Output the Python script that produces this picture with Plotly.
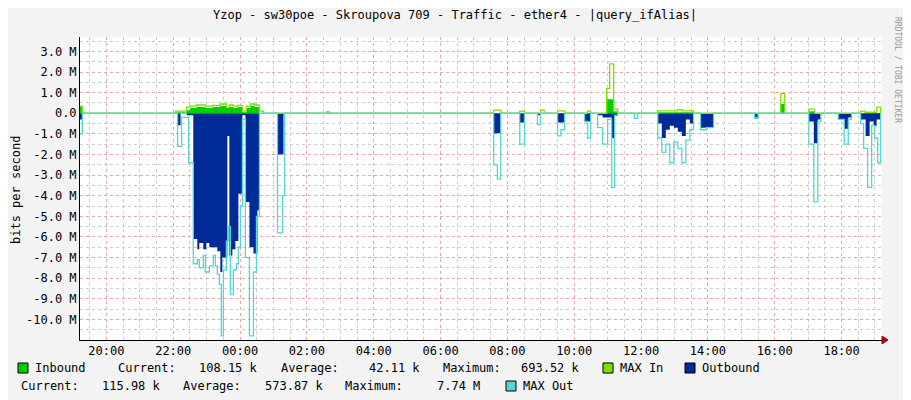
import plotly.graph_objects as go

# time in hours (24+ = next day), values in M bits/s
out_t = [19.21, 19.28, 22.13, 22.22, 22.40, 22.60, 22.72, 22.78, 22.90, 22.99, 23.08, 23.20, 23.32, 23.41, 23.47,
         23.62, 23.68, 23.77, 23.86, 23.95, 24.07, 24.16, 24.28, 24.40, 24.52, 24.58, 25.12, 25.30,
         31.59, 31.80, 32.37, 32.51, 32.90, 32.99, 33.50, 33.71, 34.31, 34.49, 34.70, 34.85, 35.00, 35.12, 35.21, 35.30,
         36.50, 36.62, 36.74, 36.86, 36.98, 37.10, 37.22, 37.34, 37.46, 37.57,
         37.78, 38.17, 39.40, 39.50, 41.02, 41.17, 41.29, 41.38, 41.90, 42.08, 42.20, 42.30,
         42.57, 42.72, 42.84, 42.96, 43.05, 43.17]
out_v = [-0.3, 0, -0.58, 0, -0.1, -6.1, -6.6, -6.3, -6.6, -6.3, -6.5, -6.5, -6.7, -7.7, -7.0,
         -1.1, -6.9, -6.6, -6.2, -3.9, -0.1, -4.3, -6.5, -6.8, -4.7, 0, -2.0, 0,
         -0.97, 0, -0.45, 0, -0.1, 0, -0.45, 0, -0.4, 0, -0.1, -0.2, -0.2, -1.2, -0.1, 0,
         -0.5, -1.2, -0.8, -0.6, -0.7, -0.9, -1.1, -0.3, -0.5, 0,
         -0.7, 0, -0.2, 0, -0.4, -1.45, -0.3, 0, -0.3, -0.75, -0.2, 0,
         -0.3, -1.1, -0.4, -0.6, -0.3, 0]

maxout_t = [19.21, 19.28, 22.13, 22.25, 22.40, 22.46, 22.60, 22.72, 22.78, 22.90, 22.96, 23.08, 23.20, 23.26, 23.32,
            23.38, 23.44, 23.50, 23.59, 23.65, 23.71, 23.80, 23.89, 23.95, 24.01, 24.07, 24.16, 24.28, 24.40,
            24.49, 24.58, 25.12, 25.27, 25.33,
            31.59, 31.70, 31.80, 32.37, 32.51, 32.90, 32.99, 33.50, 33.60, 33.71, 34.31, 34.40, 34.49,
            34.70, 34.85, 35.00, 35.12, 35.21, 35.30, 35.80, 35.90,
            36.50, 36.62, 36.74, 36.86, 36.98, 37.10, 37.22, 37.34, 37.46, 37.57,
            37.78, 37.95, 38.17, 39.40, 39.50, 41.02, 41.17, 41.29, 41.38, 41.90, 42.08, 42.20, 42.30,
            42.57, 42.66, 42.78, 42.90, 42.99, 43.08, 43.17]
maxout_v = [-1.0, 0, -1.6, -0.2, -0.2, -2.4, -7.3, -7.1, -7.5, -6.9, -7.7, -7.4, -6.9, -7.4, -7.8,
            -8.3, -10.8, -7.6, -6.2, -5.5, -8.8, -7.6, -7.3, -6.5, -4.5, -0.3, -7.0, -10.8, -7.7,
            -5.0, 0, -5.8, -4.0, 0,
            -2.5, -3.2, 0, -1.5, 0, -0.55, 0, -1.1, -0.8, 0, -0.4, -1.2, 0,
            -0.7, -1.5, -0.3, -3.6, -0.1, 0, -0.25, 0,
            -1.2, -1.9, -1.5, -2.4, -1.4, -1.7, -2.4, -1.3, -0.8, 0,
            -0.8, -0.7, 0, -0.25, 0, -1.5, -4.3, -0.4, 0, -0.3, -1.5, -0.3, 0,
            -0.5, -1.7, -3.6, -0.6, -1.2, -2.4, 0]

in_t = [19.21, 19.28, 22.07, 22.40, 22.51, 22.69, 22.96, 23.17, 23.41, 23.59, 23.68, 23.80, 23.92, 24.07,
        24.19, 24.31, 24.43, 24.58, 26.60, 26.66, 34.97, 35.18, 35.30, 36.50, 37.57, 40.18, 40.30, 41.02, 41.20]
in_v = [0.3, 0, 0.05, 0.15, 0.25, 0.3, 0.25, 0.3, 0.35, 0.25, 0.3, 0.25, 0.3, 0.05,
        0.25, 0.35, 0.3, 0, 0.05, 0, 0.68, 0.1, 0, 0.05, 0, 0.45, 0, 0.1, 0]

maxin_t = [19.21, 19.28, 22.07, 22.40, 22.51, 22.69, 22.96, 23.17, 23.41, 23.59, 23.68, 23.80, 23.92, 24.07,
           24.19, 24.31, 24.43, 24.58, 24.70, 26.60, 26.66, 31.59, 31.80, 32.37, 32.51, 32.99, 33.10,
           33.50, 33.71, 34.40, 34.49, 34.97, 35.06, 35.18, 35.30, 36.50, 37.10, 37.22, 37.57,
           40.18, 40.30, 41.02, 41.20, 42.57, 42.70, 43.05, 43.17]
maxin_v = [0.35, 0, 0.1, 0.3, 0.35, 0.4, 0.35, 0.38, 0.45, 0.3, 0.4, 0.35, 0.38, 0.1,
           0.35, 0.45, 0.4, 0.1, 0, 0.08, 0, 0.15, 0, 0.1, 0, 0.15, 0,
           0.12, 0, 0.1, 0, 1.2, 2.4, 0.2, 0, 0.12, 0.18, 0.12, 0,
           0.95, 0, 0.2, 0, 0.1, 0.05, 0.3, 0]

x_ticks = [20, 22, 24, 26, 28, 30, 32, 34, 36, 38, 40, 42]
x_labels = ["20:00", "22:00", "00:00", "02:00", "04:00", "06:00", "08:00", "10:00", "12:00", "14:00", "16:00", "18:00"]
y_ticks = [3, 2, 1, 0, -1, -2, -3, -4, -5, -6, -7, -8, -9, -10]
y_labels = ["3.0 M", "2.0 M", "1.0 M", "0.0", "-1.0 M", "-2.0 M", "-3.0 M", "-4.0 M", "-5.0 M",
            "-6.0 M", "-7.0 M", "-8.0 M", "-9.0 M", "-10.0 M"]

MONO = "DejaVu Sans Mono"
C_IN, C_MAXIN, C_OUT, C_MAXOUT = "#00CF00", "#7CE000", "#002A97", "#55D6D3"

fig = go.Figure()
fig.add_trace(go.Scatter(x=out_t, y=out_v, mode="lines", line=dict(shape="hv", width=0, color=C_OUT),
                         fill="tozeroy", fillcolor=C_OUT))
fig.add_trace(go.Scatter(x=in_t, y=in_v, mode="lines", line=dict(shape="hv", width=0, color=C_IN),
                         fill="tozeroy", fillcolor=C_IN))
fig.add_trace(go.Scatter(x=maxin_t, y=maxin_v, mode="lines", line=dict(shape="hv", width=1.3, color=C_MAXIN)))
fig.add_trace(go.Scatter(x=maxout_t, y=maxout_v, mode="lines", line=dict(shape="hv", width=1.3, color=C_MAXOUT)))

# page body has an 8px default margin, so shift everything up-left by 8px
OFF = 8
W, H = 911, 400
L, R, T, B = 80 - OFF, 882 - OFF, 37 - OFF, 340 - OFF
def px(x): return (x - OFF - L) / (R - L)
def py(y): return (B - (y - OFF)) / (B - T)

ann = []
def txt(x, y, s, **kw):
    d = dict(x=px(x), y=py(y), xref="paper", yref="paper", text=s, showarrow=False,
             xanchor="left", yanchor="middle", font=dict(family=MONO, size=12, color="#000"))
    d.update(kw)
    ann.append(d)

txt(455, 15, "Yzop - sw30poe - Skroupova 709 - Traffic - ether4 - |query_ifAlias|", xanchor="center")
txt(16, 190, "bits per second", xanchor="center", textangle=-90)
txt(897, 70, "RRDTOOL / TOBI OETIKER", xanchor="center", textangle=90,
    font=dict(family=MONO, size=8, color="#999"))
row1 = [(33, "Inbound"), (116, "Current:"), (197, "108.15 k"), (279, "Average:"), (367, "42.11 k"),
        (441, "Maximum:"), (519, "693.52 k"), (618, "MAX In"), (700, "Outbound")]
row2 = [(19, "Current:"), (100, "115.98 k"), (181, "Average:"), (263, "573.87 k"), (343, "Maximum:"),
        (435, "7.74 M"), (521, "MAX Out")]
for x, s in row1: txt(x, 368, s)
for x, s in row2: txt(x, 386, s)

shapes = []
for x, y, c in [(18, 368, C_IN), (603, 368, C_MAXIN), (685, 368, C_OUT), (506, 386, C_MAXOUT)]:
    shapes.append(dict(type="rect", xref="paper", yref="paper", x0=px(x), x1=px(x + 10),
                       y0=py(y + 5), y1=py(y - 5), fillcolor=c, line=dict(color="#000", width=1)))
shapes.append(dict(type="path", xref="paper", yref="paper",
                   path=f"M {px(882)},{py(336)} L {px(888)},{py(340)} L {px(882)},{py(344)} Z",
                   fillcolor="#B00000", line=dict(color="#B00000", width=1)))

fig.update_layout(
    width=W, height=H, margin=dict(l=L, r=W - R, t=T, b=H - B, autoexpand=False),
    paper_bgcolor="#F3F3F3", plot_bgcolor="#FFFFFF", showlegend=False,
    annotations=ann, shapes=shapes,
    xaxis=dict(range=[19.21, 43.21], tickvals=x_ticks, ticktext=x_labels, showgrid=True,
               gridcolor="#E8A8A8", griddash="dot", gridwidth=1,
               minor=dict(dtick=0.5, tick0=20, showgrid=True, gridcolor="#CCCCCC", griddash="dot"),
               showline=True, linecolor="#000", linewidth=1, ticks="", zeroline=False,
               tickfont=dict(family=MONO, size=12, color="#000")),
    yaxis=dict(range=[-11.0, 3.7], tickvals=y_ticks, ticktext=y_labels, showgrid=True,
               gridcolor="#E8A8A8", griddash="dot", gridwidth=1,
               minor=dict(dtick=0.5, tick0=0, showgrid=True, gridcolor="#CCCCCC", griddash="dot"),
               showline=True, linecolor="#000", linewidth=1, ticks="", zeroline=False,
               tickfont=dict(family=MONO, size=12, color="#000")),
)
fig.write_html("out.html")
